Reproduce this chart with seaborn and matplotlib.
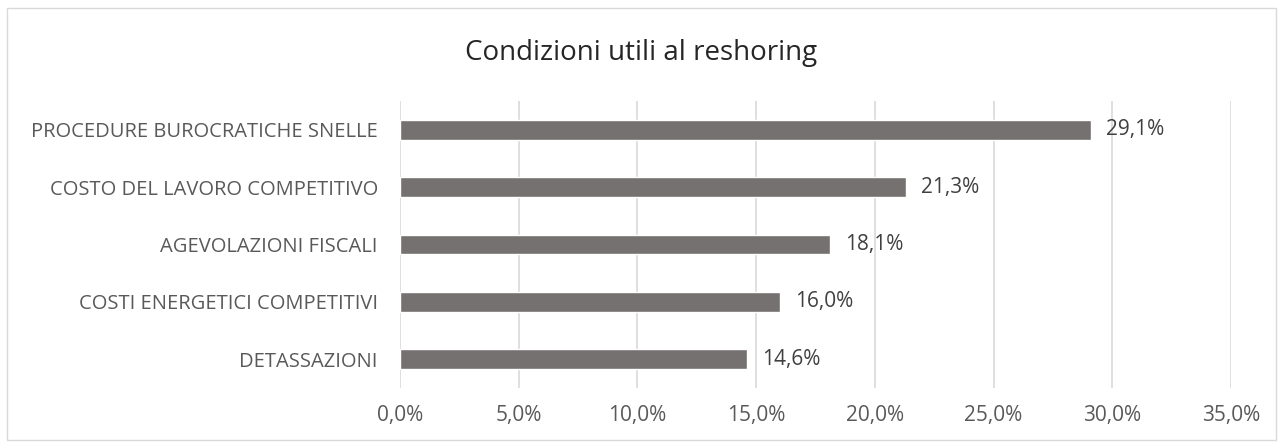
import matplotlib
matplotlib.use("Agg")
import matplotlib.pyplot as plt
from matplotlib.patches import Rectangle
import seaborn as sns
import pandas as pd

# data
categories = [
    "PROCEDURE BUROCRATICHE SNELLE",
    "COSTO DEL LAVORO COMPETITIVO",
    "AGEVOLAZIONI FISCALI",
    "COSTI ENERGETICI COMPETITIVI",
    "DETASSAZIONI",
]
values = [29.1, 21.3, 18.1, 16.0, 14.6]
xticks = [0, 5, 10, 15, 20, 25, 30, 35]

df = pd.DataFrame({"cond": categories, "pct": values})

sns.set_theme(style="white")
plt.rcParams["font.family"] = ["Open Sans", "DejaVu Sans"]

W, H = 1283, 448
fig = plt.figure(figsize=(W / 100, H / 100), dpi=100)
ax = fig.add_axes([400 / W, 1 - 388 / H, (1231 - 400) / W, (388 - 101) / H])

sns.barplot(data=df, x="pct", y="cond", orient="h", color="#767171",
            saturation=1, width=0.345, ax=ax)

ax.set_xlim(0, 35)
ax.set_xticks(xticks)
ax.set_xticklabels([f"{t:.1f}%".replace(".", ",") for t in xticks])
ax.set_ylim(4.5, -0.5)
ax.grid(axis="x", color="#d9d9d9", linewidth=1.2)
ax.set_axisbelow(True)
for s in ax.spines.values():
    s.set_visible(False)
ax.set_xlabel("")
ax.set_ylabel("")
ax.tick_params(axis="x", colors="#595959", labelsize=15, length=0, pad=12)
ax.tick_params(axis="y", colors="#595959", labelsize=14.5, length=0, pad=16)

for i, v in enumerate(values):
    ax.annotate(f"{v:.1f}%".replace(".", ","), (v, i), xytext=(15, 0),
                textcoords="offset pixels",
                va="center", ha="left", fontsize=15, color="#404040")

fig.text(0.5, 1 - 53 / H, "Condizioni utili al reshoring", ha="center",
         va="center", fontsize=20, color="#262626")

fig.patches.append(Rectangle((7 / W, 1 - 440 / H), (1276 - 7) / W, (440 - 8) / H,
                             transform=fig.transFigure, fill=False,
                             edgecolor="#d9d9d9", linewidth=1))

fig.savefig("out.png", dpi=100)
